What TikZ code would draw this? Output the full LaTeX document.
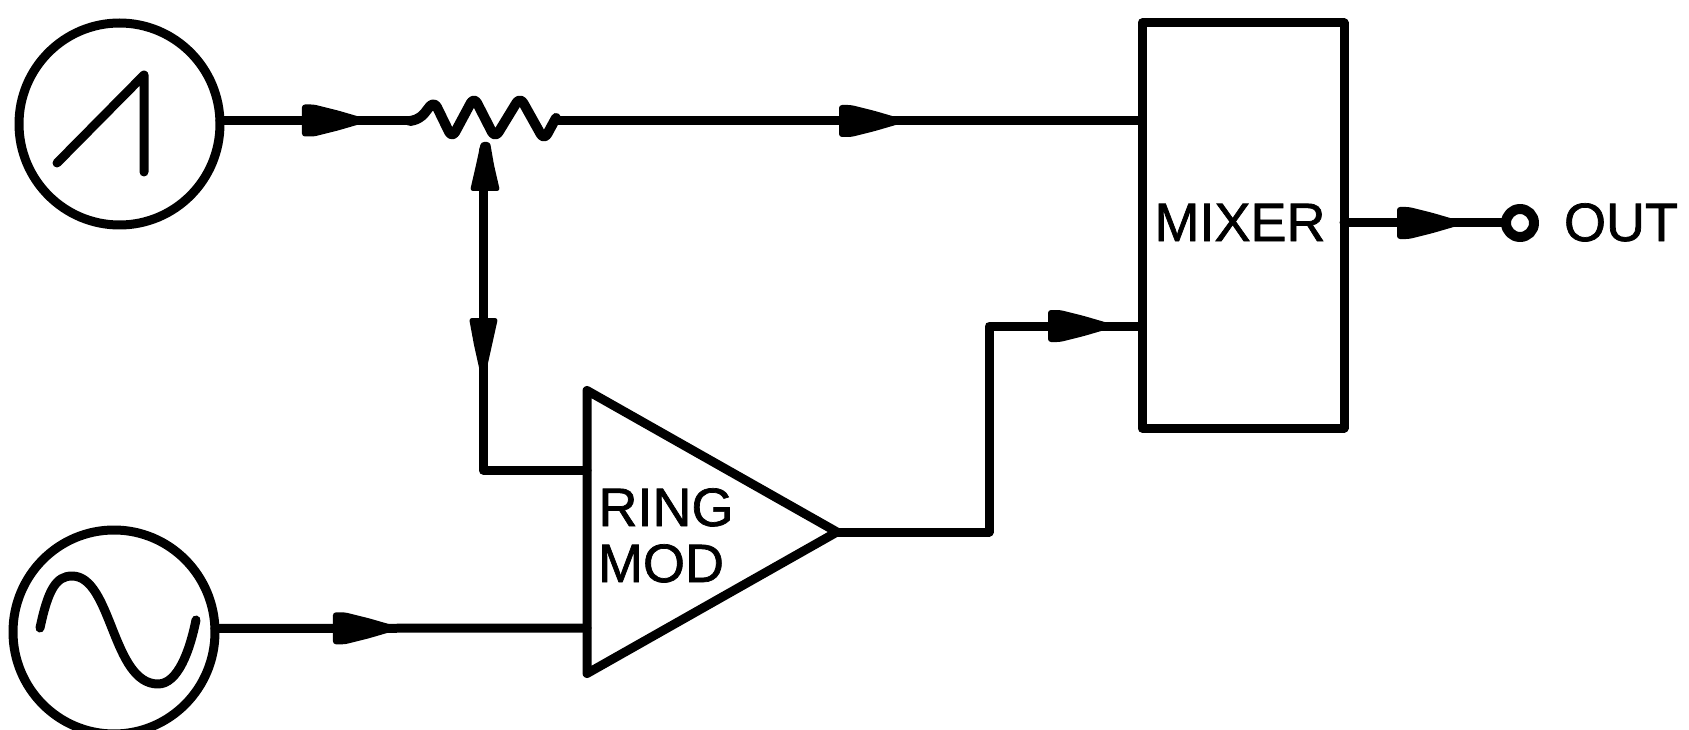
\documentclass[tikz,border=0pt]{standalone}
\usepackage{fontspec}
\newfontfamily\labfont[FakeBold=1.3]{Liberation Sans}
\usetikzlibrary{shapes.geometric,decorations.markings}
\tikzset{
  wire/.style={line width=9pt,line join=round,line cap=round,draw=black},
  sym/.style={draw=black,line width=9pt,outer sep=0pt,inner sep=0pt,line join=round},
  lab/.style={inner sep=0pt,anchor=base,font=\labfont\fontsize{54}{54}\selectfont},
  flow/.style={postaction={decorate},decoration={markings,mark=at position #1 with {
      \fill[black,rounded corners=3pt] (-2pt,-16pt) -- (-2pt,16pt) -- (10pt,16pt) -- (34pt,10pt) -- (58pt,3pt) -- (58pt,-3pt) -- (34pt,-10pt) -- (10pt,-16pt) -- cycle;}}},
}
\begin{document}
\begin{tikzpicture}[x=1pt,y=-1pt]
\useasboundingbox (0,0) rectangle (1689,730);
% blocks
\node[sym,ellipse,minimum width=201pt,minimum height=202pt] (ramp) at (119.5,124) {};
\node[sym,ellipse,minimum width=202pt,minimum height=204pt] (sine) at (114,632) {};
\node[sym,rectangle,minimum width=202pt,minimum height=405pt] (mixer) at (1243,225.5) {};
\node[sym,isosceles triangle,isosceles triangle stretches,minimum width=283pt,minimum height=250pt,anchor=apex] (ring) at (837,532) {};
\node[sym,circle,line width=10pt,minimum size=28pt] (out) at (1520,223) {};
% labels
\node[lab] (mixtxt) at (1240,241) {MIXER};
\node[lab] (outtxt) at (1621,241) {OUT};
\node[lab] (ringtxt) at (666,526) {RING};
\node[lab] (modtxt) at (661,582) {MOD};
% waveforms
\coordinate (rA) at (57,163);
\coordinate (rB) at (144,75);
\coordinate (rC) at (144,172);
\draw[wire] (rA) -- (rB) -- (rC);
\coordinate (sA) at (40,628);
\coordinate (sB) at (196,620);
\draw[wire] (sA) .. controls (48,590) and (56,576) .. (72,576)
  .. controls (112,576) and (112,684) .. (158,684)
  .. controls (178,684) and (190,650) .. (sB);
% resistor
\coordinate (resL) at (410,121);
\coordinate (resR) at (556,118);
\draw[wire,line width=10pt,rounded corners=7pt] (resL) -- (420,119) -- (434,101) -- (452,138) -- (474,97) -- (495,138) -- (520,97) -- (544,140) -- (resR);
% connector end points
\coordinate (wiper) at (485,141);
\coordinate (ringA) at (ring.lower side |- 0,470);
\coordinate (ringB) at (ring.lower side |- 0,628);
\coordinate (mixA) at (mixer.west |- 0,121);
\coordinate (mixB) at (mixer.west |- 0,326);
\coordinate (outE) at (mixer.east |- out);
% connectors
\draw[wire,flow=84pt] (ramp.2) -- (ramp.2 -| resL) -- (resL);
\draw[wire,flow=288pt] (resR) -- (resR |- mixA) -- (mixA);
\draw[wire] (ringA) -- (483,470) -- (483,150);
\fill[black,rounded corners=3pt] (470,191) -- (500,191) -- (494,165) -- (490,142) -- (481,142) -- (476,165) -- cycle;
\fill[black,rounded corners=3pt] (469,318) -- (498,318) -- (492,345) -- (486,372) -- (480,372) -- (474,345) -- cycle;
\draw[wire,flow=120pt] (sine.2) -- (ringB);
\draw[wire,flow=419pt] (ring.apex) -- (989,532) -- (989,326) -- (mixB);
\draw[wire,flow=55pt] (outE) -- (out.west);
\end{tikzpicture}
\end{document}
